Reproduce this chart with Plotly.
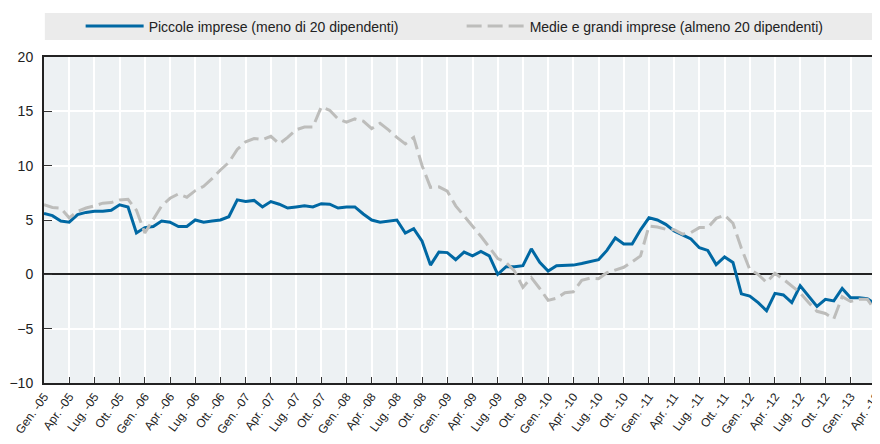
import plotly.graph_objects as go

# Monthly data, Gen. 2005 .. Mag. 2013
month_abbr = ["Gen.", "Feb.", "Mar.", "Apr.", "Mag.", "Giu.", "Lug.", "Ago.", "Set.", "Ott.", "Nov.", "Dic."]
years = ["05", "06", "07", "08", "09", "10", "11", "12", "13"]
months = [f"{m} -{y}" for y in years for m in month_abbr][:101]

piccole = [
    5.6, 5.4, 4.9, 4.8, 5.5, 5.7, 5.8, 5.8, 5.9, 6.4, 6.2, 3.8,
    4.3, 4.4, 4.9, 4.8, 4.4, 4.4, 5.0, 4.8, 4.9, 5.0, 5.3, 6.85,
    6.7, 6.8, 6.2, 6.7, 6.45, 6.1, 6.2, 6.3, 6.2, 6.5, 6.45, 6.1,
    6.2, 6.2, 5.55, 5.0, 4.8, 4.9, 5.0, 3.8, 4.2, 3.05, 0.85, 2.05,
    2.0, 1.35, 2.05, 1.7, 2.1, 1.7, 0.0, 0.7, 0.7, 0.8, 2.35, 1.1,
    0.3, 0.8, 0.8, 0.85, 1.0, 1.15, 1.35, 2.2, 3.35, 2.8, 2.8, 4.1,
    5.2, 5.0, 4.6, 4.0, 3.6, 3.25, 2.45, 2.2, 0.9, 1.6, 1.1, -1.8,
    -2.0, -2.6, -3.35, -1.75, -1.9, -2.6, -1.05, -2.0, -2.95, -2.3, -2.45, -1.3,
    -2.15, -2.15, -2.25, -2.75, -2.7,
]

medie_grandi = [
    6.4, 6.15, 6.1, 5.2, 5.8, 6.1, 6.3, 6.55, 6.6, 6.85, 6.9, 5.9,
    3.8, 5.1, 6.3, 7.0, 7.4, 7.1, 7.7, 8.1, 8.8, 9.6, 10.3, 11.5,
    12.2, 12.5, 12.4, 12.7, 12.0, 12.6, 13.3, 13.55, 13.55, 15.4, 15.1, 14.3,
    14.0, 14.3, 14.1, 13.4, 13.9, 13.3, 12.6, 12.0, 12.6, 10.0, 8.0, 8.05,
    7.65, 6.3, 5.4, 4.5, 3.5, 2.5, 1.45, 1.1, 0.3, -1.2, -0.3, -1.3,
    -2.4, -2.2, -1.7, -1.6, -0.55, -0.35, -0.4, 0.15, 0.4, 0.65, 1.15, 1.7,
    4.45, 4.35, 4.15, 4.1, 3.7, 3.85, 4.3, 4.3, 5.15, 5.45, 4.7, 2.4,
    0.45, 0.0, -0.75, 0.1, -0.45, -1.05, -1.7, -2.6, -3.4, -3.6, -4.1, -2.05,
    -2.5, -2.3, -2.3, -3.4, -3.5,
]

tick_labels = [months[i] for i in range(0, 100, 3)]
y_ticks = [-10, -5, 0, 5, 10, 15, 20]

x_idx = list(range(len(months)))

fig = go.Figure()
fig.add_trace(go.Scatter(
    x=x_idx, y=piccole, mode="lines",
    name="Piccole imprese (meno di 20 dipendenti)",
    line=dict(color="#0068A3", width=3),
    text=months, hovertemplate="%{text}: %{y}<extra></extra>",
))
fig.add_trace(go.Scatter(
    x=x_idx, y=medie_grandi, mode="lines",
    name="Medie e grandi imprese (almeno 20 dipendenti)",
    line=dict(color="#BDBDBB", width=3, dash="15px,6px"),
    text=months, hovertemplate="%{text}: %{y}<extra></extra>",
))

font_family = "Liberation Sans, Arial, sans-serif"

# the page body adds an 8px offset, so the figure is 8px smaller and shifted
fig.update_layout(
    width=872, height=436,
    margin=dict(l=36, r=0, t=49, b=61),
    paper_bgcolor="white",
    plot_bgcolor="#EDF1F3",
    font=dict(family=font_family, size=13, color="#222222"),
    showlegend=True,
    legend=dict(
        orientation="h",
        xref="container", yref="container",
        x=0.0833, xanchor="left",
        y=0.9576, yanchor="middle",
        bgcolor="rgba(0,0,0,0)",
        itemwidth=58,
        entrywidth=308,
        font=dict(size=14, color="#222222"),
        traceorder="normal",
    ),
    shapes=[dict(
        type="rect", xref="paper", yref="paper",
        x0=0.001, x1=1.0, y0=1.052, y1=1.135,
        fillcolor="#EBEBEB", line=dict(width=0), layer="below",
    )],
    xaxis=dict(
        range=[0, 99.5],
        tickmode="array",
        tickvals=list(range(0, 100, 3)),
        ticktext=tick_labels,
        tickangle=-54,
        tickfont=dict(size=12, color="#222222"),
        ticklabeloverflow="allow",
        showgrid=True, gridcolor="white", gridwidth=1.5,
        ticks="inside", ticklen=6, tickcolor="#333333",
        showline=True, linecolor="#222222", linewidth=2, mirror=True,
        zeroline=False,
        automargin=False,
    ),
    yaxis=dict(
        range=[-10, 20],
        tickvals=y_ticks,
        tickfont=dict(size=14, color="#222222"),
        showgrid=True, gridcolor="white", gridwidth=1.5,
        ticks="inside", ticklen=8, tickcolor="#333333",
        ticklabelstandoff=6,
        showline=True, linecolor="#222222", linewidth=2,
        zeroline=True, zerolinecolor="#222222", zerolinewidth=2,
        automargin=False,
    ),
)

fig.write_html("out.html")
